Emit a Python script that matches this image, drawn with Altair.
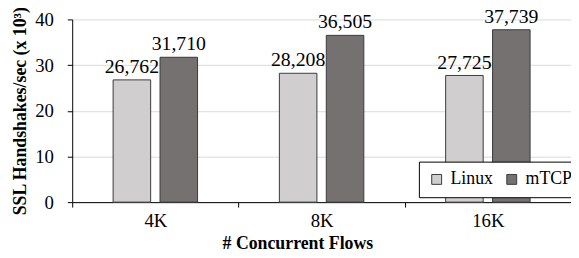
import altair as alt
import pandas as pd

categories = ["4K", "8K", "16K"]
series = ["Linux", "mTCP"]
linux = [26762, 28208, 27725]
mtcp = [31710, 36505, 37739]
colors = ["#d0cece", "#767171"]

rows = []
for i, c in enumerate(categories):
    rows.append({"flows": c, "stack": series[0], "value": linux[i]})
    rows.append({"flows": c, "stack": series[1], "value": mtcp[i]})
df = pd.DataFrame(rows)

FONT = "Liberation Serif"

base = alt.Chart(df).transform_calculate(k="datum.value / 1000").encode(
    x=alt.X(
        "flows:N",
        sort=categories,
        scale=alt.Scale(paddingInner=0, paddingOuter=0),
        axis=alt.Axis(
            title="# Concurrent Flows",
            tickBand="extent",
            labelAngle=0,
            grid=False,
            labelPadding=5,
            titleX=228,
            titlePadding=4,
            tickSize=5,
        ),
    ),
    xOffset=alt.XOffset(
        "stack:N", sort=series, scale=alt.Scale(paddingInner=0.2, paddingOuter=0.872)
    ),
    y=alt.Y(
        "k:Q",
        scale=alt.Scale(domain=[0, 40]),
        axis=alt.Axis(
            values=[0, 10, 20, 30, 40],
            title="SSL Handshakes/sec (x 10³)",
            labelPadding=14,
            titlePadding=5,
            tickSize=5,
        ),
    ),
)

bars = base.mark_bar(stroke="#3a3a3a", strokeWidth=1).encode(
    color=alt.Color(
        "stack:N",
        scale=alt.Scale(domain=series, range=colors),
        legend=alt.Legend(
            title=None,
            orient="none",
            legendX=351,
            legendY=144,
            direction="horizontal",
            symbolType="square",
            symbolSize=100,
            symbolStrokeColor="#3a3a3a",
            symbolStrokeWidth=1,
            labelFont=FONT,
            labelFontSize=18,
            labelColor="#000000",
            labelOffset=5,
            columnPadding=10,
            padding=9,
            strokeColor="#000000",
            fillColor="#ffffff",
        ),
    )
)

text = base.mark_text(dy=-7, baseline="alphabetic", fontSize=20, font=FONT, color="#000000").encode(
    text=alt.Text("value:Q", format=",")
)

chart = (
    (bars + text)
    .properties(
        width=505,
        height=185,
        autosize=alt.AutoSizeParams(type="none"),
        padding={"left": 65, "top": 10, "right": 0, "bottom": 54},
    )
    .configure_view(strokeOpacity=0)
    .configure_axis(
        domainColor="#000000",
        tickColor="#000000",
        gridColor="#d9d9d9",
        labelFont=FONT,
        labelFontSize=19,
        labelColor="#000000",
        titleFont=FONT,
        titleFontSize=18,
        titleFontWeight="bold",
        titleColor="#000000",
    )
)

chart.save("out.html", embed_options={"renderer": "svg", "actions": False})
